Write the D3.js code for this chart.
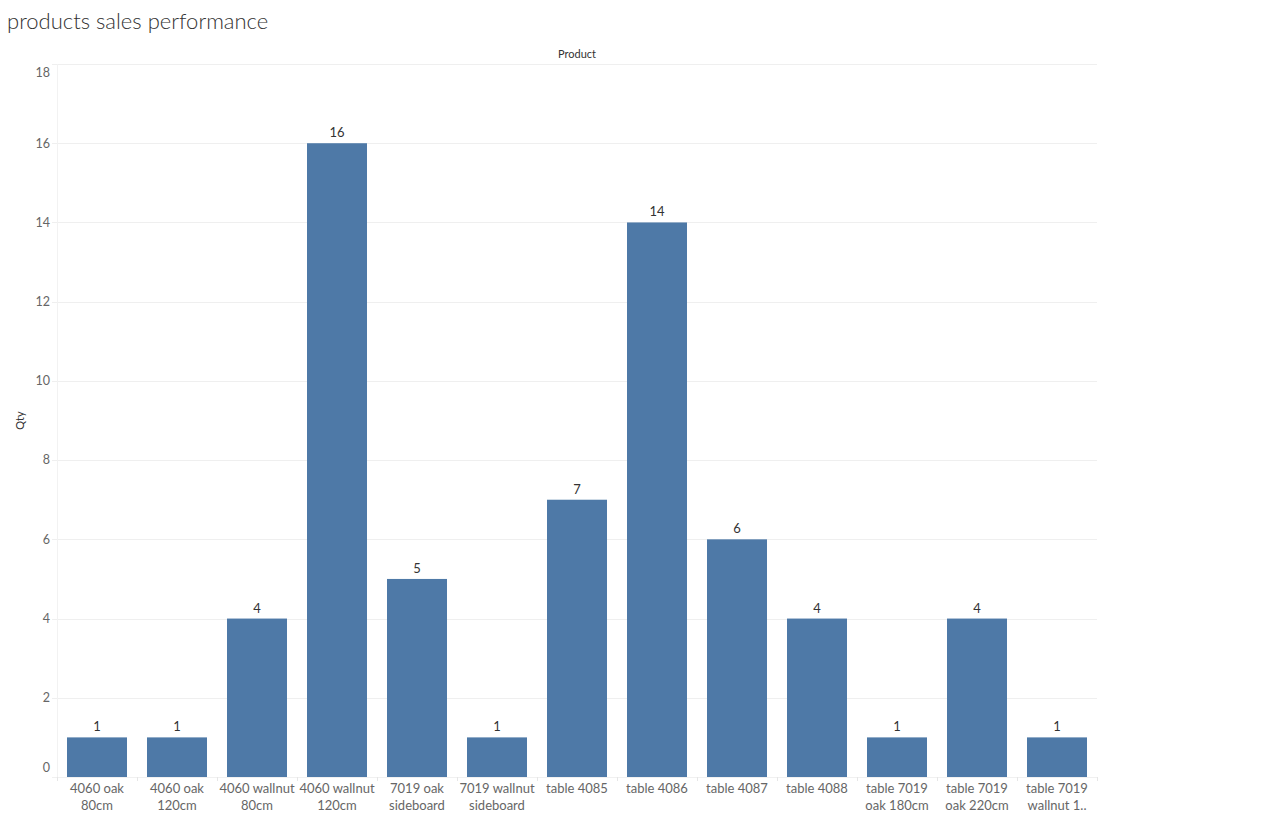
<!DOCTYPE html>
<html>
<head>
<meta charset="utf-8">
<script src="https://cdn.jsdelivr.net/npm/d3@7"></script>
<style>
  body { margin: 0; background: #fff; font-family: Lato, "Open Sans", sans-serif; }
  .title { font-size: 22px; fill: #333; font-weight: 300; }
  .lab { font-size: 11px; fill: #333; font-family: Lato, sans-serif; }
  .val { font-size: 13px; fill: #333; font-family: Lato, sans-serif; }
</style>
</head>
<body>
<div id="plot"></div>
<script>
const products = ["4060 oak 80cm", "4060 oak 120cm", "4060 wallnut 80cm", "4060 wallnut 120cm",
                  "7019 oak sideboard", "7019 wallnut sideboard", "table 4085", "table 4086",
                  "table 4087", "table 4088", "table 7019 oak 180cm", "table 7019 oak 220cm",
                  "table 7019 wallnut 1.."]
// how the x labels break over lines
const productLines = [["4060 oak", "80cm"], ["4060 oak", "120cm"], ["4060 wallnut", "80cm"], ["4060 wallnut", "120cm"],
                      ["7019 oak", "sideboard"], ["7019 wallnut", "sideboard"], ["table 4085"], ["table 4086"],
                      ["table 4087"], ["table 4088"], ["table 7019", "oak 180cm"], ["table 7019", "oak 220cm"],
                      ["table 7019", "wallnut 1.."]]
const qty = [1, 1, 4, 16, 5, 1, 7, 14, 6, 4, 1, 4, 1]
const yTicks = [0, 2, 4, 6, 8, 10, 12, 14, 16, 18]

const w = 1276, h = 825,
      margin = {top: 64, right: 179, bottom: 48, left: 57}

const svg = d3.select("#plot").append("svg")
  .attr("width", w)
  .attr("height", h)

const x = d3.scaleBand()
  .domain(products)
  .range([margin.left, w - margin.right])
  .paddingInner(0.25)
  .paddingOuter(0.125)

const y = d3.scaleLinear()
  .domain([0, 18])
  .range([h - margin.bottom, margin.top])

svg.append("text")
  .attr("class", "title")
  .attr("x", 7)
  .attr("y", 29)
  .text("products sales performance")

svg.append("text")
  .attr("class", "lab")
  .attr("x", (margin.left + w - margin.right) / 2)
  .attr("y", 58)
  .style("text-anchor", "middle")
  .text("Product")

svg.append("text")
  .attr("class", "lab")
  .attr("transform", `translate(24, ${y(9)}) rotate(-90)`)
  .style("text-anchor", "middle")
  .text("Qty")

// gridlines
svg.append("g")
  .selectAll("line")
  .data(yTicks)
  .join("line")
    .attr("x1", margin.left - 5)
    .attr("x2", w - margin.right)
    .attr("y1", d => Math.round(y(d)) + 0.5)
    .attr("y2", d => Math.round(y(d)) + 0.5)
    .attr("stroke", "#efefef")

// y axis line
svg.append("line")
  .attr("x1", margin.left + 0.5)
  .attr("x2", margin.left + 0.5)
  .attr("y1", margin.top)
  .attr("y2", h - margin.bottom)
  .attr("stroke", "#f2f2f2")

// y tick labels (ends nudged inward like the original)
svg.append("g")
  .selectAll("text")
  .data(yTicks)
  .join("text")
    .attr("x", 50)
    .attr("y", d => y(d) + (d === 18 ? 9 : d === 0 ? -9 : 0))
    .attr("dy", "0.35em")
    .style("text-anchor", "end")
    .style("fill", "#666")
    .style("font-size", "12.5px")
    .text(d => d)

// bars
svg.append("g")
  .selectAll("rect")
  .data(qty)
  .join("rect")
    .attr("x", (d, i) => x(products[i]))
    .attr("y", d => y(d))
    .attr("width", x.bandwidth())
    .attr("height", d => y(0) - y(d))
    .attr("fill", "#4e79a7")

// value labels
svg.append("g")
  .selectAll("text")
  .data(qty)
  .join("text")
    .attr("class", "val")
    .attr("x", (d, i) => x(products[i]) + x.bandwidth() / 2)
    .attr("y", d => y(d) - 6)
    .style("text-anchor", "middle")
    .text(d => d)

// x axis baseline and category separators
const step = x.step()
svg.append("line")
  .attr("x1", margin.left - 5)
  .attr("x2", w - margin.right)
  .attr("y1", y(0) + 0.5)
  .attr("y2", y(0) + 0.5)
  .attr("stroke", "#f0f0f0")

svg.append("g")
  .selectAll("line")
  .data(d3.range(products.length + 1))
  .join("line")
    .attr("x1", i => margin.left + i * step + 0.5)
    .attr("x2", i => margin.left + i * step + 0.5)
    .attr("y1", y(0))
    .attr("y2", y(0) + 4)
    .attr("stroke", "#e6e6e6")

// x labels
const xl = svg.append("g")
  .selectAll("text")
  .data(products)
  .join("text")
    .attr("x", d => x(d) + x.bandwidth() / 2)
    .attr("y", y(0) + 16)
    .style("text-anchor", "middle")
    .style("fill", "#666")
    .style("font-size", "13px")

xl.selectAll("tspan")
  .data((d, i) => productLines[i])
  .join("tspan")
    .attr("x", function() { return this.parentNode.getAttribute("x") })
    .attr("dy", (d, j) => j === 0 ? 0 : 17)
    .text(d => d)
</script>
</body>
</html>
